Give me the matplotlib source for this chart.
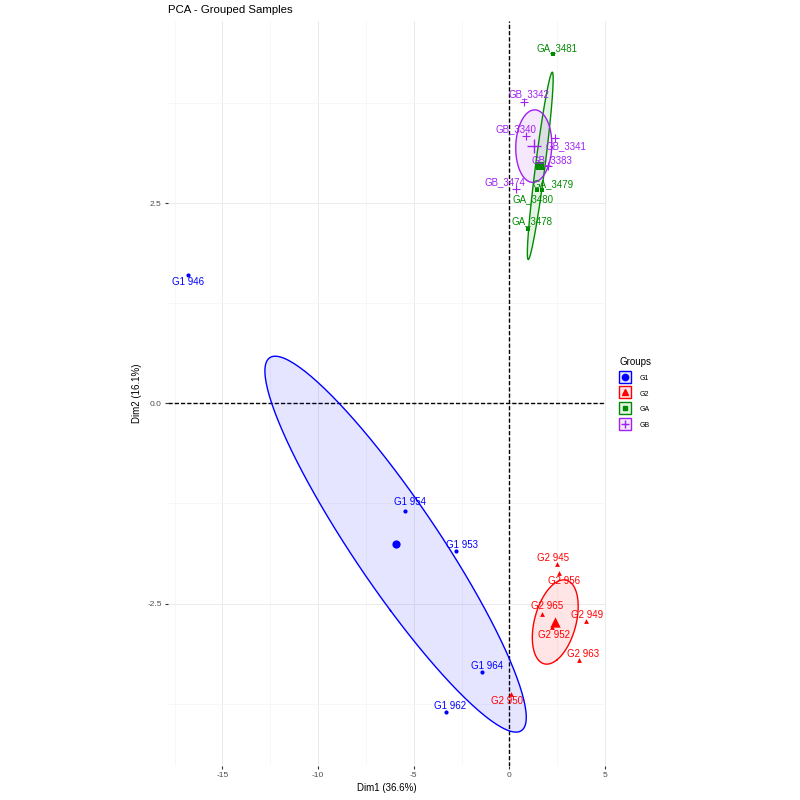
import numpy as np
import matplotlib.pyplot as plt
from matplotlib.lines import Line2D
from matplotlib.colors import to_rgb

plt.rcParams['font.family'] = ['Liberation Sans', 'DejaVu Sans']
plt.rcParams['axes.unicode_minus'] = False

groups = ['G1', 'G2', 'GA', 'GB']
colors = ['#0000FF', '#FF0000', '#008B00', '#A020F0']
markers = ['o', '^', 's', '+']

# sample coordinates on the first two PCA dimensions
g1_names = ['G1 946', 'G1 954', 'G1 953', 'G1 964', 'G1 962']
g1_dim1 = [-16.80, -5.45, -2.77, -1.41, -3.30]
g1_dim2 = [1.60, -1.34, -1.84, -3.36, -3.85]

g2_names = ['G2 945', 'G2 956', 'G2 965', 'G2 949', 'G2 952', 'G2 963', 'G2 950']
g2_dim1 = [2.50, 2.62, 1.69, 4.01, 2.23, 3.65, 0.09]
g2_dim2 = [-2.01, -2.12, -2.63, -2.72, -2.79, -3.21, -3.63]

ga_names = ['GA_3481', 'GA_3479', 'GA_3480', 'GA_3478']
ga_dim1 = [2.30, 1.73, 1.45, 0.98]
ga_dim2 = [4.36, 2.67, 2.66, 2.18]

gb_names = ['GB_3342', 'GB_3340', 'GB_3341', 'GB_3383', 'GB_3474']
gb_dim1 = [0.75, 0.89, 2.37, 2.00, 0.37]
gb_dim2 = [3.77, 3.34, 3.32, 2.96, 2.68]

# label nudges in pixels (dx, dy screen-down), like the repel layout
g1_nudge = [(0, 7), (5, -9), (6, -6), (5, -6), (4, -6)]
g2_nudge = [(-4, -6), (5, 8), (5, -8), (1, -6), (2, 8), (4, -6), (-4, 7)]
ga_nudge = [(4, -6), (11, -6), (-4, 9), (4, -8)]
gb_nudge = [(5, -7), (-10, -7), (11, 8), (4, -6), (-12, -7)]

data = [(g1_names, g1_dim1, g1_dim2, g1_nudge),
        (g2_names, g2_dim1, g2_dim2, g2_nudge),
        (ga_names, ga_dim1, ga_dim2, ga_nudge),
        (gb_names, gb_dim1, gb_dim2, gb_nudge)]

pt_size = {'o': 9, '^': 12, 's': 10, '+': 30}
mean_size = {'o': 35, '^': 55, 's': 40, '+': 110}


# confidence ellipse around the group mean (level 0.95)
def conf_ellipse(x, y, level=0.95, npoints=200):
    x = np.asarray(x)
    y = np.asarray(y)
    cov = np.cov(x, y) / len(x)
    t = np.sqrt(-2 * np.log(1 - level))
    vals, vecs = np.linalg.eigh(cov)
    a = np.linspace(0, 2 * np.pi, npoints)
    circ = np.vstack([np.cos(a), np.sin(a)])
    pts = vecs @ (np.sqrt(vals)[:, None] * circ) * t
    return x.mean() + pts[0], y.mean() + pts[1]


fig = plt.figure(figsize=(8, 8), dpi=100, facecolor='w')
ax = fig.add_axes([168 / 800, 1 - 766 / 800, 438 / 800, 745.5 / 800])

all_x, all_y = [], []
for (names, d1, d2, nudge), col, mk in zip(data, colors, markers):
    ex, ey = conf_ellipse(d1, d2)
    ax.fill(ex, ey, color=col, alpha=0.1, lw=0, zorder=2)
    ax.plot(ex, ey, color=col, lw=1, zorder=3)
    ax.scatter(d1, d2, marker=mk, s=pt_size[mk], color=col, lw=0.8 if mk == '+' else 0, zorder=4)
    ax.scatter([np.mean(d1)], [np.mean(d2)], marker=mk, s=mean_size[mk], color=col,
               lw=1 if mk == '+' else 0, zorder=4)
    for name, x, y, (dx, dy) in zip(names, d1, d2, nudge):
        ax.annotate(name, (x, y), xytext=(dx, -dy), textcoords='offset pixels',
                    ha='center', va='center', fontsize=7, color=col, zorder=5)
    all_x += list(d1) + list(ex)
    all_y += list(d2) + list(ey)

# ggplot style 5% expansion
xr = max(all_x) - min(all_x)
yr = max(all_y) - min(all_y)
ax.set_xlim(min(all_x) - 0.05 * xr, max(all_x) + 0.05 * xr)
ax.set_ylim(min(all_y) - 0.05 * yr, max(all_y) + 0.05 * yr)

ax.axhline(0, color='black', lw=1, dashes=(3, 1.5), zorder=1)
ax.axvline(0, color='black', lw=1, dashes=(3, 1.5), zorder=1)

ax.set_xticks([-15, -10, -5, 0, 5])
ax.set_xticks([-17.5, -12.5, -7.5, -2.5, 2.5], minor=True)
ax.set_yticks([-2.5, 0, 2.5])
ax.set_yticklabels(['-2.5', '0.0', '2.5'])
ax.set_yticks([-3.75, -1.25, 1.25, 3.75], minor=True)
ax.grid(which='major', color='#EBEBEB', lw=0.7, zorder=0)
ax.grid(which='minor', color='#F4F4F4', lw=0.5, zorder=0)
ax.set_axisbelow(True)
ax.tick_params(which='major', length=2.5, width=0.8, color='#333333',
               labelsize=6, labelcolor='#4D4D4D', pad=2)
ax.tick_params(which='minor', length=0)
for spine in ('top', 'right', 'bottom', 'left'):
    ax.spines[spine].set_visible(False)

ax.set_xlabel('Dim1 (36.6%)', fontsize=7, labelpad=3)
ax.set_ylabel('Dim2 (16.1%)', fontsize=7, labelpad=4)
fig.text(168 / 800, 1 - 10 / 800, 'PCA - Grouped Samples', fontsize=8.2, ha='left', va='center')

# legend keys: tinted box with the group marker on top
handles = []
for col, mk in zip(colors, markers):
    box = Line2D([], [], marker='s', ls='none', markersize=8, markerfacecolor=(*to_rgb(col), 0.1),
                 markeredgecolor=col, markeredgewidth=1)
    dot = Line2D([], [], marker=mk, color=col, ls='none',
                 markersize={'o': 4.5, '^': 4.5, 's': 3.5, '+': 6}[mk], markeredgewidth=1)
    handles.append((box, dot))
leg = fig.legend(handles, groups, loc='upper left', bbox_to_anchor=(619 / 800, 1 - 357 / 800),
                 frameon=False, title='Groups', title_fontsize=7, fontsize=5,
                 handlelength=1.6, handleheight=1.6, labelspacing=0.95, handletextpad=1.3,
                 borderpad=0, borderaxespad=0)
leg._legend_box.align = 'left'

fig.savefig('out.png', dpi=100, facecolor='w')
